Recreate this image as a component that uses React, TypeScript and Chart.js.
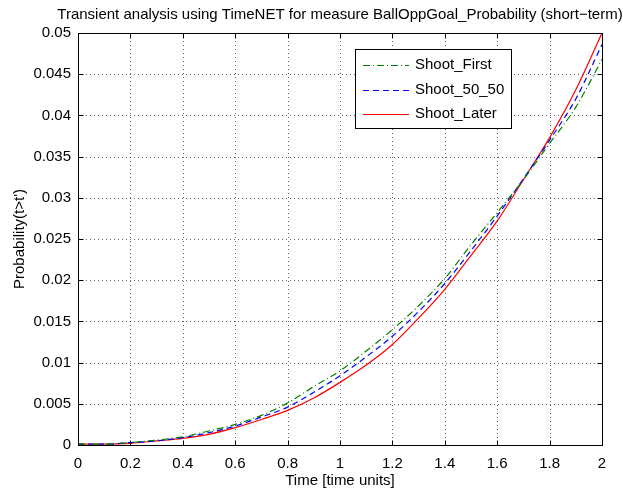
import React, { useEffect, useRef } from "react";
import { Chart, registerables } from "chart.js";

Chart.register(...registerables);

const times = [0, 0.1, 0.2, 0.3, 0.4, 0.5, 0.6, 0.7, 0.8, 0.9, 1.0, 1.1, 1.2, 1.3, 1.4, 1.5, 1.6, 1.7, 1.8, 1.9, 2.0];
const shootFirst = [0.0001, 0.0001, 0.0003, 0.0006, 0.0010, 0.0017, 0.0025, 0.0036, 0.0051, 0.0071, 0.0090, 0.0114, 0.0140, 0.0169, 0.0202, 0.0243, 0.0282, 0.0322, 0.0366, 0.0410, 0.0468];
const shoot5050 = [0.0001, 0.0001, 0.0003, 0.0005, 0.0009, 0.0015, 0.0023, 0.0034, 0.0046, 0.0064, 0.0084, 0.0107, 0.0132, 0.0162, 0.0196, 0.0236, 0.0278, 0.0323, 0.0370, 0.0420, 0.0486];
const shootLater = [0.0001, 0.0001, 0.0002, 0.0005, 0.0008, 0.0013, 0.0021, 0.0031, 0.0042, 0.0057, 0.0076, 0.0097, 0.0122, 0.0154, 0.0189, 0.0230, 0.0272, 0.0322, 0.0373, 0.0431, 0.0500];
const seriesNames = ["Shoot_First", "Shoot_50_50", "Shoot_Later"];
const xTickLabels = ["0", "0.2", "0.4", "0.6", "0.8", "1", "1.2", "1.4", "1.6", "1.8", "2"];
const yTickLabels = ["0", "0.005", "0.01", "0.015", "0.02", "0.025", "0.03", "0.035", "0.04", "0.045", "0.05"];
const titleText = "Transient analysis using TimeNET for measure BallOppGoal_Probability (short\u2212term)";
const xTitle = "Time [time units]";
const yTitle = "Probability(t>t')";

const FONT = "'Liberation Sans', Arial, sans-serif";
const colors = ["#008000", "#0000ff", "#ff0000"];
const dashes = [[7, 3, 1, 3], [6, 4], []];

const toPts = (ys: number[]) => ys.map((y, i) => ({ x: times[i], y }));

const decor = {
  id: "matlabDecor",
  beforeDatasetsDraw(chart: any) {
    const { ctx, chartArea: a, scales } = chart;
    ctx.save();
    ctx.strokeStyle = "rgba(0,0,0,0.6)";
    ctx.lineWidth = 1;
    ctx.setLineDash([1, 3]);
    scales.x.ticks.forEach((t: any) => {
      const px = Math.round(scales.x.getPixelForValue(t.value)) + 0.5;
      ctx.beginPath();
      ctx.moveTo(px, a.top);
      ctx.lineTo(px, a.bottom);
      ctx.stroke();
    });
    scales.y.ticks.forEach((t: any) => {
      const py = Math.round(scales.y.getPixelForValue(t.value)) + 0.5;
      ctx.beginPath();
      ctx.moveTo(a.left, py);
      ctx.lineTo(a.right, py);
      ctx.stroke();
    });
    ctx.restore();
  },
  afterDraw(chart: any) {
    const { ctx, chartArea: a, scales } = chart;
    ctx.save();
    ctx.strokeStyle = "#000";
    ctx.lineWidth = 1;
    ctx.setLineDash([]);
    const L = Math.round(a.left) + 0.5, R = Math.round(a.right) + 0.5;
    const T = Math.round(a.top) + 0.5, B = Math.round(a.bottom) + 0.5;
    ctx.strokeRect(L, T, R - L, B - T);
    const tl = 5;
    scales.x.ticks.forEach((t: any) => {
      const px = Math.round(scales.x.getPixelForValue(t.value)) + 0.5;
      ctx.beginPath();
      ctx.moveTo(px, B); ctx.lineTo(px, B - tl);
      ctx.moveTo(px, T); ctx.lineTo(px, T + tl);
      ctx.stroke();
    });
    scales.y.ticks.forEach((t: any) => {
      const py = Math.round(scales.y.getPixelForValue(t.value)) + 0.5;
      ctx.beginPath();
      ctx.moveTo(L, py); ctx.lineTo(L + tl, py);
      ctx.moveTo(R, py); ctx.lineTo(R - tl, py);
      ctx.stroke();
    });
    // titles
    ctx.fillStyle = "#000";
    ctx.font = `15px ${FONT}`;
    ctx.textAlign = "center";
    ctx.textBaseline = "middle";
    const cx = (a.left + a.right) / 2;
    ctx.fillText(titleText, cx, 14.5);
    ctx.fillText(xTitle, cx, 481);
    ctx.save();
    ctx.translate(20, (a.top + a.bottom) / 2);
    ctx.rotate(-Math.PI / 2);
    ctx.fillText(yTitle, 0, 0);
    ctx.restore();
    // legend
    const lx = 355.5, ly = 49.5, lw = 156, lh = 79;
    ctx.fillStyle = "#fff";
    ctx.fillRect(lx, ly, lw, lh);
    ctx.strokeStyle = "#000";
    ctx.strokeRect(lx, ly, lw, lh);
    const rows = [65, 90, 114];
    seriesNames.forEach((name, i) => {
      ctx.strokeStyle = colors[i];
      ctx.lineWidth = 1.2;
      ctx.setLineDash(dashes[i]);
      ctx.beginPath();
      ctx.moveTo(363, rows[i] + 0.5);
      ctx.lineTo(409, rows[i] + 0.5);
      ctx.stroke();
      ctx.setLineDash([]);
      ctx.fillStyle = "#000";
      ctx.textAlign = "left";
      ctx.fillText(name, 415, rows[i]);
    });
    ctx.restore();
  },
};

export default function App() {
  const ref = useRef<HTMLCanvasElement>(null);
  useEffect(() => {
    document.body.style.margin = "0";
    Chart.defaults.font.family = FONT;
    const chart = new Chart(ref.current as HTMLCanvasElement, {
      type: "line",
      data: {
        datasets: [shootFirst, shoot5050, shootLater].map((ys, i) => ({
          label: seriesNames[i],
          data: toPts(ys),
          borderColor: colors[i],
          borderDash: dashes[i],
          borderWidth: 1.2,
          pointRadius: 0,
          fill: false,
          cubicInterpolationMode: "monotone",
        })),
      },
      options: {
        animation: false,
        responsive: false,
        devicePixelRatio: 1,
        layout: { padding: { top: 33, right: 21, left: 0, bottom: 0 } },
        plugins: { legend: { display: false }, title: { display: false }, tooltip: { enabled: false } },
        scales: {
          x: {
            type: "linear",
            min: 0,
            max: 2,
            afterFit: (s: any) => { s.height = 44; },
            grid: { display: false, drawTicks: false },
            border: { display: false },
            ticks: {
              stepSize: 0.2,
              autoSkip: false,
              maxRotation: 0,
              padding: 10,
              color: "#000",
              font: { size: 15, family: FONT },
              callback: (_v: any, i: number) => xTickLabels[i],
            },
          },
          y: {
            type: "linear",
            min: 0,
            max: 0.05,
            afterFit: (s: any) => { s.width = 78; },
            grid: { display: false, drawTicks: false },
            border: { display: false },
            ticks: {
              stepSize: 0.005,
              autoSkip: false,
              padding: 7,
              color: "#000",
              font: { size: 15, family: FONT },
              callback: (_v: any, i: number) => yTickLabels[i],
            },
          },
        },
      },
      plugins: [decor],
    } as any);
    return () => chart.destroy();
  }, []);
  return (
    <div style={{ position: "absolute", left: 0, top: 0, width: 623, height: 489, background: "#fff" }}>
      <canvas ref={ref} width={623} height={489} />
    </div>
  );
}
